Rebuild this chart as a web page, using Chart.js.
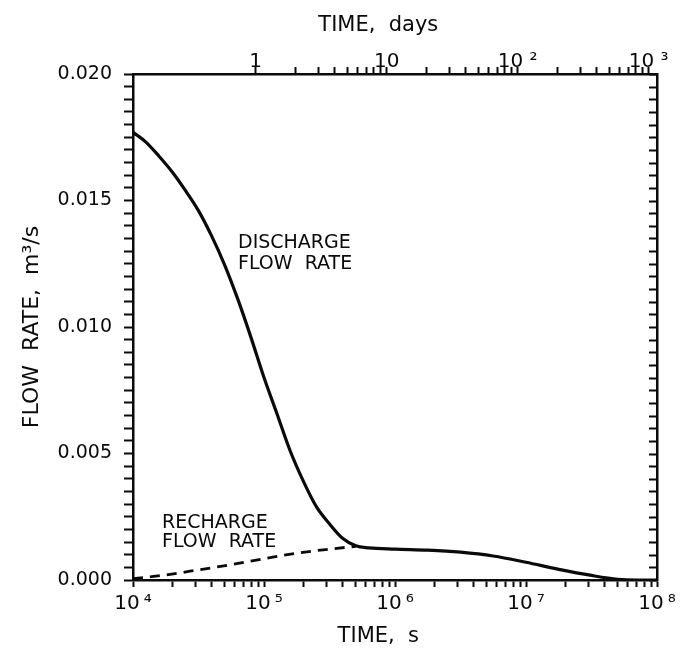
<!DOCTYPE html>
<html>
<head>
<meta charset="utf-8">
<script src="https://cdn.jsdelivr.net/npm/chart.js@4.4.1/dist/chart.umd.min.js"></script>
<style>
  html, body { margin: 0; padding: 0; background: #ffffff; }
  #wrap { width: 685px; height: 648px; }
</style>
</head>
<body>
<div id="wrap"><canvas id="c" width="685" height="648"></canvas></div>
<script>
// ---- Data ----
// Discharge flow rate (solid): time in seconds, flow in m^3/s
const dischargeTime = [10000, 12600, 15800, 20000, 25100, 31600, 39800, 50100, 63100, 79400,
  100000, 126000, 158000, 200000, 251000, 316000, 398000, 501000, 631000, 1000000,
  1780000, 3160000, 5620000, 10000000, 17800000, 31600000, 50100000, 70800000, 100000000];
const dischargeFlow = [0.01770, 0.01730, 0.01675, 0.01612, 0.01540, 0.01460, 0.01360, 0.01245, 0.01110, 0.00960,
  0.00800, 0.00655, 0.00512, 0.00390, 0.00290, 0.00222, 0.00165, 0.00135, 0.00127, 0.00122,
  0.00118, 0.00110, 0.00095, 0.00070, 0.00042, 0.00018, 0.00003, 0.00000, 0.00000];

// Recharge flow rate (dashed)
const rechargeTime = [10000, 17800, 31600, 56200, 100000, 178000, 316000, 501000];
const rechargeFlow = [0.00005, 0.00020, 0.00040, 0.00061, 0.00084, 0.00106, 0.00122, 0.00133];

// Axis ranges / tick values
const timeRangeSeconds = [1e4, 1e8];
const secondsPerDay = 86400;
const flowRange = [0, 0.020];
const flowStep = 0.0005;
const flowLabelEvery = 0.005;
const secondTicks = [1e4,2e4,3e4,4e4,5e4,6e4,7e4,8e4,9e4,
  1e5,2e5,3e5,4e5,5e5,6e5,7e5,8e5,9e5,
  1e6,2e6,3e6,4e6,5e6,6e6,7e6,8e6,9e6,
  1e7,2e7,3e7,4e7,5e7,6e7,7e7,8e7,9e7,1e8];
const dayTicks = [1,2,3,4,5,6,7,8,9,10,20,30,40,50,60,70,80,90,100,200,300,400,500,600,700,800,900,1000];
const dayLabels = {1: '1', 10: '10', 100: '10 \u00B2', 1000: '10 \u00B3'};
const supDigits = {4: '\u2074', 5: '\u2075', 6: '\u2076', 7: '\u2077', 8: '\u2078'};

const annotations = [
  { lines: ['DISCHARGE', 'FLOW  RATE'] },
  { lines: ['RECHARGE', 'FLOW  RATE'] }
];

// ---- Chart ----
const FONT = '"DejaVu Sans", "Liberation Sans", sans-serif';
Chart.defaults.color = '#0a0a0a';
Chart.defaults.font.family = FONT;

function toPoints(xs, ys) { return xs.map((x, i) => ({ x: x, y: ys[i] })); }

const annotationPlugin = {
  id: 'annot',
  afterDraw(chart) {
    const c = chart.ctx;
    const ca = chart.chartArea;
    const ys = chart.scales.y;
    // inward ticks on right frame
    c.save();
    c.strokeStyle = '#0a0a0a';
    c.lineWidth = 2;
    ys.ticks.forEach(t => {
      const py = Math.round(ys.getPixelForValue(t.value)) + 0.5;
      c.beginPath();
      c.moveTo(ca.right - 8, py);
      c.lineTo(ca.right, py);
      c.stroke();
    });
    c.restore();
    // text labels
    c.save();
    c.fillStyle = '#0a0a0a';
    c.font = '19px ' + FONT;
    c.textBaseline = 'middle';
    c.textAlign = 'left';
    const pos = [[238, 243, 21], [162, 523, 19]];
    annotations.forEach((a, i) => {
      const [x, y, dy] = pos[i];
      a.lines.forEach((ln, j) => c.fillText(ln, x, y + j * dy));
    });
    c.restore();
  }
};

new Chart(document.getElementById('c'), {
  type: 'scatter',
  data: {
    datasets: [
      {
        label: 'Discharge flow rate',
        data: toPoints(dischargeTime, dischargeFlow),
        showLine: true,
        borderColor: '#0a0a0a',
        borderWidth: 3.2,
        pointRadius: 0,
        cubicInterpolationMode: 'monotone'
      },
      {
        label: 'Recharge flow rate',
        data: toPoints(rechargeTime, rechargeFlow),
        showLine: true,
        borderColor: '#0a0a0a',
        borderWidth: 2.8,
        borderDash: [10, 7],
        pointRadius: 0,
        cubicInterpolationMode: 'monotone'
      }
    ]
  },
  options: {
    responsive: false,
    animation: false,
    devicePixelRatio: 1,
    layout: { padding: 0 },
    plugins: { legend: { display: false }, tooltip: { enabled: false } },
    scales: {
      x: {
        type: 'logarithmic',
        position: 'bottom',
        min: timeRangeSeconds[0],
        max: timeRangeSeconds[1],
        afterBuildTicks: s => { s.ticks = secondTicks.map(v => ({ value: v })); },
        afterFit: s => { s.height = 68; },
        ticks: {
          autoSkip: false, maxRotation: 0, minRotation: 0, padding: 5,
          font: { size: 20 }, color: '#0a0a0a',
          callback: v => {
            const e = Math.log10(v);
            return Math.abs(e - Math.round(e)) < 1e-9 ? '10\u2009' + supDigits[Math.round(e)] : '';
          }
        },
        grid: { drawOnChartArea: false, drawTicks: true, tickLength: 7, tickColor: '#0a0a0a', tickWidth: 2 },
        border: { display: true, color: '#0a0a0a', width: 2.5 },
        title: { display: true, text: 'TIME,  s     ', font: { size: 21 }, color: '#0a0a0a', padding: { top: 0, bottom: -1 } }
      },
      x2: {
        type: 'logarithmic',
        position: 'top',
        min: timeRangeSeconds[0] / secondsPerDay,
        max: timeRangeSeconds[1] / secondsPerDay,
        afterBuildTicks: s => { s.ticks = dayTicks.map(v => ({ value: v })); },
        afterFit: s => { s.height = 74; },
        ticks: {
          autoSkip: false, maxRotation: 0, minRotation: 0, padding: -5,
          font: { size: 20, lineHeight: 1 }, color: '#0a0a0a',
          callback: v => dayLabels[v] || ''
        },
        grid: { drawOnChartArea: false, drawTicks: true, tickLength: 7, tickColor: '#0a0a0a', tickWidth: 2 },
        border: { display: true, color: '#0a0a0a', width: 2.5 },
        title: { display: true, text: 'TIME,  days     ', font: { size: 21 }, color: '#0a0a0a', padding: { top: 13, bottom: 0 } }
      },
      y: {
        type: 'linear',
        position: 'left',
        min: flowRange[0],
        max: flowRange[1],
        afterFit: s => { s.width = 133; },
        ticks: {
          stepSize: flowStep, autoSkip: false, padding: 12,
          font: { size: 19 }, color: '#0a0a0a',
          callback: v => {
            const r = v / flowLabelEvery;
            return Math.abs(r - Math.round(r)) < 1e-6 ? v.toFixed(3) : '';
          }
        },
        grid: { drawOnChartArea: false, drawTicks: true, tickLength: 9, tickColor: '#0a0a0a', tickWidth: 2 },
        border: { display: true, color: '#0a0a0a', width: 2.5 },
        title: { display: true, text: 'FLOW  RATE,  m\u00B3/s', font: { size: 22 }, color: '#0a0a0a', padding: { top: 19, bottom: 0 } }
      },
      y2: {
        type: 'linear',
        position: 'right',
        min: flowRange[0],
        max: flowRange[1],
        afterFit: s => { s.width = 28; },
        ticks: { display: false },
        grid: { display: false, drawTicks: false, drawOnChartArea: false },
        border: { display: true, color: '#0a0a0a', width: 2.5 }
      }
    }
  },
  plugins: [annotationPlugin]
});
</script>
</body>
</html>
